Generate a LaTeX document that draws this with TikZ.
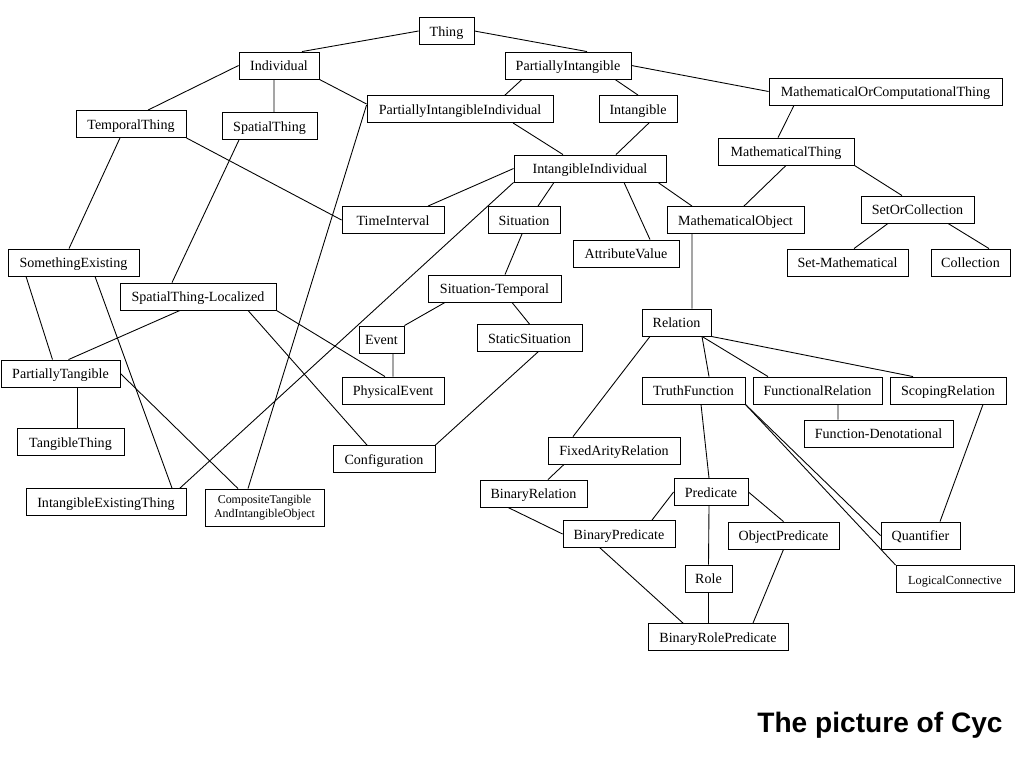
\documentclass[tikz,border=0pt]{standalone}
\usepackage{fontspec}
\setmainfont{Liberation Serif}
\newfontfamily\capfont{Liberation Sans}
\usetikzlibrary{calc}
\tikzset{
  box/.style={rectangle,draw,line width=0.5pt,inner sep=1pt,align=center,
    minimum height=27*0.02cm,text height=6.2pt,text depth=0pt,
    font=\fontsize{8}{9.6}\selectfont},
  wd/.style={minimum width=#1*0.02cm},
  line/.style={line width=0.5pt}
}

\begin{document}
\begin{tikzpicture}[x=0.02cm,y=-0.02cm]
\useasboundingbox (0,0) rectangle (1024,768);
% upper part
\node[box, wd=55] (thing) at (446.5,31) {Thing};
\node[box, wd=80] (indiv) at (279,65.5) {Individual};
\node[box, wd=126] (partint) at (568,65.5) {PartiallyIntangible};
\node[box, wd=110] (temporal) at (131,124) {TemporalThing};
\node[box, wd=95] (spatial) at (269.5,126) {SpatialThing};
\node[box, wd=186] (pii) at (460,109) {PartiallyIntangibleIndividual};
\node[box, wd=78] (intangible) at (638,109) {Intangible};
\node[box, wd=233] (mocthing) at (885.5,91.5) {MathematicalOrComputationalThing};
\node[box, wd=136] (maththing) at (786,151.5) {MathematicalThing};
\node[box, wd=152] (intind) at (590,168.5) {IntangibleIndividual};
\node[box, wd=102] (timeint) at (393,220) {TimeInterval};
\node[box, wd=72] (situation) at (524,220) {Situation};
\node[box, wd=106] (attrval) at (626,253.5) {AttributeValue};
\node[box, wd=137] (mathobj) at (735.5,220) {MathematicalObject};
\node[box, wd=113] (setcoll) at (917.5,209.5) {SetOrCollection};
\node[box, wd=121] (setmath) at (847.5,262.5) {Set-Mathematical};
\node[box, wd=79] (collection) at (970.5,262.5) {Collection};
% left part
\node[box, wd=131] (someexist) at (73.5,262.5) {SomethingExisting};
\node[box, wd=156] (stloc) at (198,296.5) {SpatialThing-Localized};
\node[box, wd=133] (sittemp) at (494.5,288.5) {Situation-Temporal};
\node[box, wd=105] (statsit) at (529.5,338) {StaticSituation};
\node[box, wd=45] (event) at (381.5,339.5) {Event};
\node[box, wd=102] (physev) at (393,390.5) {PhysicalEvent};
\node[box, wd=119] (parttang) at (60.5,373.5) {PartiallyTangible};
\node[box, wd=107] (tangthing) at (70.5,442) {TangibleThing};
\node[box, wd=102] (config) at (384,459) {Configuration};
\node[box, wd=160] (ietthing) at (106,502) {IntangibleExistingThing};
\node[box, wd=119, minimum height=37*0.02cm, text height={}, text depth={},
  font=\fontsize{6.8}{8.2}\selectfont]
  (composite) at (264.5,507.5) {CompositeTangible\\AndIntangibleObject};
% relations
\node[box, wd=69] (relation) at (676.5,322.5) {Relation};
\node[box, wd=103] (truthfn) at (693.5,390.5) {TruthFunction};
\node[box, wd=129] (funcrel) at (817.5,390.5) {FunctionalRelation};
\node[box, wd=116] (scoping) at (948,390.5) {ScopingRelation};
\node[box, wd=149] (fundenot) at (878.5,433.5) {Function-Denotational};
\node[box, wd=132] (fixedar) at (614,450.5) {FixedArityRelation};
\node[box, wd=107] (binrel) at (533.5,493.5) {BinaryRelation};
\node[box, wd=74] (predicate) at (711,492) {Predicate};
\node[box, wd=112] (binpred) at (619,534) {BinaryPredicate};
\node[box, wd=111] (objpred) at (783.5,535.5) {ObjectPredicate};
\node[box, wd=79] (quantifier) at (920.5,535.5) {Quantifier};
\node[box, wd=47] (role) at (708.5,578.5) {Role};
\node[box, wd=118, font=\fontsize{7}{8.4}\selectfont] (logconn) at (955,579) {LogicalConnective};
\node[box, wd=140] (brp) at (718,637) {BinaryRolePredicate};
\node[anchor=base, font=\capfont\bfseries\fontsize{16}{19}\selectfont] (caption) at (880,732) {The picture of Cyc};

\draw[line] (thing.west) -- ($(indiv.north)+(23,0)$);
\draw[line] (thing.east) -- ($(partint.north)+(19,0)$);
\draw[line] (partint.east) -- (mocthing.west);
\draw[line] (indiv.west) -- ($(temporal.north)+(17,0)$);
\draw[line] ($(indiv.south)+(-5,0)$) -- ($(spatial.north)+(4.5,0)$);
\draw[line] (indiv.south east) -- ($(pii.west)+(0,-5)$);
\draw[line] (temporal.south east) -- (timeint.west);
\draw[line] ($(temporal.south)+(-11,0)$) -- ($(someexist.north)+(-4.5,0)$);
\draw[line] ($(spatial.south)+(-30.5,0)$) -- ($(stloc.north)+(-26,0)$);
\draw[line] ($(pii.west)+(0,-4)$) -- ($(composite.north)+(-16.5,0)$);
\draw[line] ($(partint.south)+(-46,0)$) -- ($(pii.north)+(45,0)$);
\draw[line] ($(partint.south)+(47,0)$) -- (intangible.north);
\draw[line] ($(pii.south)+(53,0)$) -- ($(intind.north)+(-27,0)$);
\draw[line] ($(intangible.south)+(11,0)$) -- ($(intind.north)+(26,0)$);
\draw[line] ($(mocthing.south)+(-91.5,0)$) -- ($(maththing.north)+(-8,0)$);
\draw[line] (maththing.south) -- ($(mathobj.north)+(8.5,0)$);
\draw[line] (maththing.south east) -- ($(setcoll.north)+(-15.5,0)$);
\draw[line] ($(setcoll.south)+(-29.5,0)$) -- ($(setmath.north)+(6.5,0)$);
\draw[line] ($(setcoll.south)+(30.5,0)$) -- ($(collection.north)+(18.5,0)$);
\draw[line] (intind.west) -- ($(timeint.north)+(35,0)$);
\draw[line] (intind.south west) -- ($(ietthing.north)+(74,0)$);
\draw[line] ($(intind.south)+(-36,0)$) -- ($(situation.north)+(14,0)$);
\draw[line] ($(intind.south)+(34,0)$) -- ($(attrval.north)+(24,0)$);
\draw[line] ($(intind.south)+(68,0)$) -- ($(mathobj.north)+(-43.5,0)$);
\draw[line] ($(mathobj.south)+(-43.5,0)$) -- ($(relation.north)+(15.5,0)$);
\draw[line] ($(situation.south)+(-2,0)$) -- ($(sittemp.north)+(10.5,0)$);
\draw[line] ($(sittemp.south)+(17.5,0)$) -- (statsit.north);
\draw[line] ($(statsit.south)+(8.5,0)$) -- (config.north east);
\draw[line] ($(sittemp.south)+(-49.5,0)$) -- (event.north east);
\draw[line] ($(event.south)+(11.5,0)$) -- (physev.north);
\draw[line] ($(someexist.south)+(-47.5,0)$) -- ($(parttang.north)+(-8,0)$);
\draw[line] ($(someexist.south)+(21.5,0)$) -- ($(ietthing.north)+(66,0)$);
\draw[line] ($(stloc.south)+(-18,0)$) -- ($(parttang.north)+(8,0)$);
\draw[line] ($(stloc.south)+(50,0)$) -- ($(config.north)+(-17,0)$);
\draw[line] (stloc.south east) -- ($(physev.north)+(-8,0)$);
\draw[line] ($(parttang.south)+(16.5,0)$) -- ($(tangthing.north)+(6.5,0)$);
\draw[line] (parttang.east) -- ($(composite.north)+(-26.5,0)$);
\draw[line] ($(relation.south)+(-26.5,0)$) -- ($(fixedar.north)+(-41,0)$);
\draw[line] ($(relation.south)+(25.5,0)$) -- ($(truthfn.north)+(15.5,0)$);
\draw[line] ($(relation.south)+(25.5,0)$) -- ($(funcrel.north)+(-49.5,0)$);
\draw[line] (relation.south east) -- ($(scoping.north)+(-35,0)$);
\draw[line] ($(truthfn.south)+(7.5,0)$) -- ($(predicate.north)+(-2,0)$);
\draw[line] (truthfn.south east) -- (quantifier.west);
\draw[line] (truthfn.south east) -- (logconn.north west);
\draw[line] ($(funcrel.south)+(20.5,0)$) -- ($(fundenot.north)+(-40.5,0)$);
\draw[line] ($(scoping.south)+(35,0)$) -- ($(quantifier.north)+(19.5,0)$);
\draw[line] ($(fixedar.south)+(-50,0)$) -- ($(binrel.north)+(14.5,0)$);
\draw[line] ($(binrel.south)+(-25.5,0)$) -- (binpred.west);
\draw[line] (predicate.west) -- ($(binpred.north)+(33,0)$);
\draw[line] (predicate.east) -- (objpred.north);
\draw[line] ($(predicate.south)+(-2,0)$) -- (role.north);
\draw[line] (role.south) -- ($(brp.north)+(-9.5,0)$);
\draw[line] ($(binpred.south)+(-19,0)$) -- ($(brp.north)+(-35,0)$);
\draw[line] (objpred.south) -- ($(brp.north)+(35,0)$);
\end{tikzpicture}
\end{document}
